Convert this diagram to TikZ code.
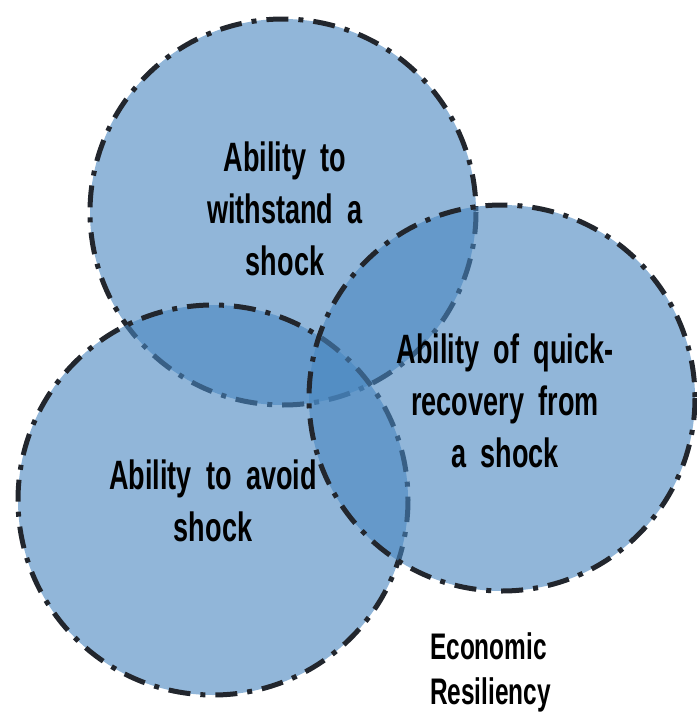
\documentclass[tikz,border=0pt]{standalone}
\usepackage{fontspec}
\setmainfont{Liberation Sans}[FakeStretch=0.66]
\begin{document}
\begin{tikzpicture}[x=1pt,y=-1pt,
  ring/.style={line width=5pt, draw=ringline,
    dash pattern=on 22pt off 10pt on 5pt off 10pt,
    fill=ringfill, fill opacity=0.6},
  label/.style={align=center, font=\fontsize{41}{52}\selectfont\bfseries, text=black, inner sep=0pt},
  note/.style={align=left, font=\fontsize{37}{45}\selectfont\bfseries, text=black, inner sep=0pt, anchor=north west}]
\definecolor{ringfill}{RGB}{72,134,192}
\definecolor{ringline}{RGB}{34,38,45}
\useasboundingbox (0,0) rectangle (696,712);
% the three overlapping circles, drawn in stacking order
\path[ring] (283,212) circle[radius=193];
\path[ring] (213,500) circle[radius=195];
\path[ring] (502,398) circle[radius=193];
% circle captions
\node[label] (withstand) at (285,209) {Ability\, to\\withstand\, a\\shock};
\node[label] (recovery) at (505,401) {Ability\, of\, quick-\\recovery\, from\\a\, shock};
\node[label] (avoid) at (213,501) {Ability\, to\, avoid\\shock};
\node[note] (title) at (430,632) {Economic\\Resiliency};
\end{tikzpicture}
\end{document}
